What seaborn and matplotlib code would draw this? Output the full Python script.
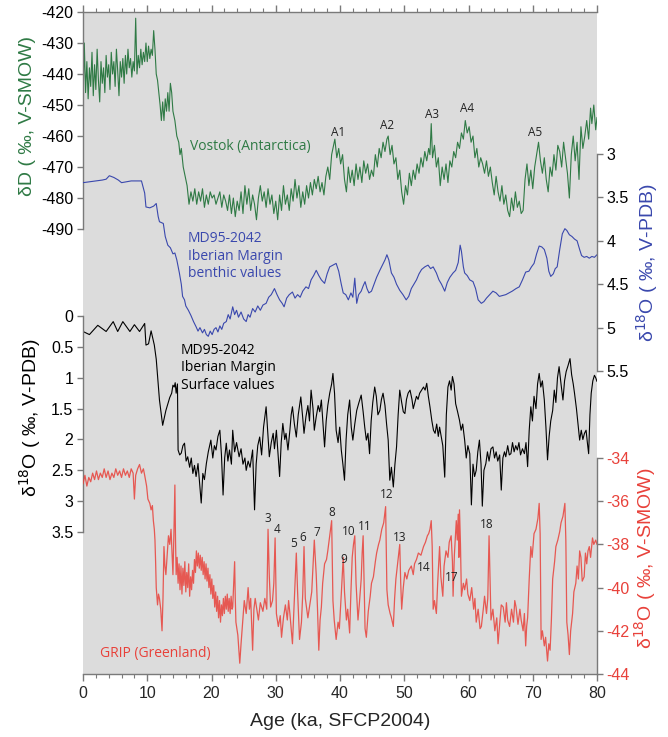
import numpy as np
import pandas as pd
import seaborn as sns
import matplotlib.pyplot as plt

# ---- Vostok deuterium (Antarctica), permil V-SMOW
vostok_age = [0.0, 0.2, 0.4, 0.6, 0.8, 1.0, 1.2, 1.4, 1.6, 1.8, 2.0, 2.2, 2.4, 2.6, 2.8, 3.0, 3.2, 3.4, 3.6, 3.8,
              4.0, 4.2, 4.4, 4.6, 4.8, 5.0, 5.2, 5.4, 5.6, 5.8, 6.0, 6.2, 6.4, 6.6, 6.8, 7.0, 7.2, 7.4, 7.6, 7.8,
              8.0, 8.2, 8.4, 8.6, 8.8, 9.0, 9.2, 9.4, 9.6, 9.8, 10.0, 10.2, 10.4, 10.6, 10.8, 11.0, 11.2, 11.4, 11.6, 11.8,
              12.0, 12.2, 12.4, 12.6, 12.8, 13.0, 13.2, 13.4, 13.6, 13.8, 14.0, 14.3, 14.6, 14.9, 15.1, 15.3, 15.6, 15.9, 16.2, 16.5,
              16.8, 17.1, 17.4, 17.7, 18.0, 18.3, 18.6, 18.9, 19.2, 19.5, 19.8, 20.1, 20.4, 20.7, 21.0, 21.3, 21.6, 21.9, 22.2, 22.5,
              22.8, 23.1, 23.4, 23.7, 24.0, 24.3, 24.6, 24.9, 25.2, 25.5, 25.8, 26.1, 26.4, 26.7, 27.0, 27.3, 27.6, 27.9, 28.2, 28.5,
              28.8, 29.1, 29.4, 29.7, 30.0, 30.3, 30.6, 30.9, 31.2, 31.5, 31.8, 32.1, 32.4, 32.7, 33.0, 33.3, 33.6, 33.9, 34.2, 34.5,
              34.8, 35.1, 35.4, 35.7, 36.0, 36.3, 36.6, 36.9, 37.2, 37.5, 37.8, 38.1, 38.4, 38.7, 39.0, 39.2, 39.5, 39.8, 40.1, 40.4,
              40.7, 41.0, 41.3, 41.6, 41.9, 42.2, 42.5, 42.8, 43.1, 43.4, 43.7, 44.0, 44.3, 44.6, 44.9, 45.2, 45.5, 45.8, 46.1, 46.4,
              46.7, 47.0, 47.3, 47.5, 47.8, 48.1, 48.4, 48.7, 49.0, 49.3, 49.6, 49.9, 50.2, 50.5, 50.8, 51.1, 51.4, 51.7, 52.0, 52.3,
              52.6, 52.9, 53.2, 53.5, 53.8, 54.0, 54.2, 54.4, 54.7, 55.0, 55.3, 55.6, 55.9, 56.2, 56.5, 56.8, 57.1, 57.4, 57.7, 58.0,
              58.3, 58.6, 58.9, 59.2, 59.5, 59.8, 60.1, 60.4, 60.7, 61.0, 61.3, 61.6, 61.9, 62.2, 62.5, 62.8, 63.1, 63.4, 63.7, 64.0,
              64.3, 64.6, 64.9, 65.2, 65.5, 65.8, 66.1, 66.4, 66.7, 67.0, 67.3, 67.6, 67.9, 68.2, 68.5, 68.8, 69.1, 69.4, 69.7, 70.0,
              70.3, 70.6, 70.9, 71.2, 71.5, 71.8, 72.1, 72.4, 72.7, 73.0, 73.3, 73.6, 73.9, 74.2, 74.5, 74.8, 75.1, 75.4, 75.7, 76.0,
              76.3, 76.6, 76.9, 77.2, 77.5, 77.8, 78.1, 78.4, 78.7, 79.0, 79.2, 79.5, 79.8, 80.0]
vostok_dD = [-449, -430, -446, -436, -448, -438, -444, -433, -447, -437, -445, -432, -442, -449, -436, -443, -438, -446, -434, -441,
             -437, -445, -433, -440, -436, -444, -432, -439, -447, -436, -441, -435, -443, -434, -440, -432, -438, -435, -441, -436,
             -439, -422, -440, -434, -438, -432, -437, -433, -436, -430, -436, -431, -435, -432, -434, -426, -432, -440, -442, -446,
             -450, -455, -449, -455, -448, -452, -446, -452, -443, -446, -452, -455, -460, -462, -466, -464, -470, -473, -476, -482,
             -478, -481, -477, -482, -478, -481, -477, -483, -479, -482, -478, -480, -479, -482, -480, -478, -483, -479, -481, -484,
             -479, -485, -480, -486, -481, -484, -478, -485, -476, -482, -477, -484, -479, -482, -487, -480, -476, -481, -478, -483,
             -477, -482, -479, -485, -481, -487, -479, -484, -476, -482, -479, -484, -477, -481, -474, -480, -476, -483, -478, -482,
             -476, -480, -475, -479, -474, -477, -473, -478, -475, -479, -473, -470, -474, -466, -463, -461, -467, -464, -469, -466,
             -474, -478, -470, -475, -471, -476, -469, -474, -470, -475, -468, -472, -469, -474, -471, -473, -466, -470, -464, -467,
             -462, -465, -461, -460, -466, -463, -469, -467, -474, -471, -478, -482, -476, -479, -472, -476, -471, -474, -469, -472,
             -467, -470, -465, -468, -464, -466, -456, -467, -463, -470, -467, -476, -470, -474, -469, -475, -468, -470, -465, -467,
             -462, -464, -459, -461, -455, -459, -457, -462, -460, -467, -464, -470, -467, -469, -472, -468, -473, -470, -475, -479,
             -473, -478, -481, -476, -482, -479, -484, -486, -480, -484, -478, -483, -481, -485, -484, -474, -469, -476, -471, -477,
             -470, -466, -462, -468, -472, -467, -474, -478, -470, -473, -466, -471, -463, -465, -470, -462, -467, -472, -480, -466,
             -460, -468, -462, -474, -457, -464, -460, -455, -461, -451, -456, -450, -458, -454]

# ---- MD95-2042 benthic d18O, permil V-PDB
benthic_age = [0, 1, 2, 3, 3.6, 4.1, 4.8, 5.5, 6.0, 6.8, 7.5, 8.3, 9.1, 9.6, 9.8, 10.4, 11.0, 11.4, 11.7, 11.9,
               12.5, 12.8, 13.2, 13.6, 14.0, 14.3, 14.6, 15.0, 15.3, 15.5, 15.8, 16.0, 16.4, 16.8, 17.2, 17.6, 17.9, 18.2, 18.6, 18.9,
               19.2, 19.5, 19.8, 20.1, 20.4, 20.7, 21.0, 21.3, 21.6, 21.9, 22.3, 22.6, 22.9, 23.3, 23.6, 23.9, 24.2, 24.6, 25.0, 25.4,
               25.7, 26.0, 26.4, 26.8, 27.2, 27.6, 28.0, 28.5, 28.9, 29.3, 29.8, 30.2, 30.6, 31.0, 31.3, 31.7, 32.1, 32.6, 33.0, 33.4,
               33.8, 34.2, 34.7, 35.1, 35.5, 35.9, 36.3, 36.7, 37.1, 37.6, 38.0, 38.4, 38.9, 39.4, 39.8, 40.2, 40.5, 40.9, 41.3, 41.7,
               42.0, 42.3, 42.6, 42.9, 43.3, 43.6, 43.9, 44.2, 44.5, 44.9, 45.3, 45.7, 46.2, 46.6, 47.0, 47.3, 47.6, 48.0, 48.4, 48.8,
               49.3, 49.8, 50.3, 50.7, 51.1, 51.5, 51.9, 52.3, 52.7, 53.2, 53.7, 54.1, 54.5, 55.0, 55.4, 55.8, 56.3, 56.7, 57.1, 57.6,
               58.0, 58.4, 58.7, 58.9, 59.2, 59.4, 59.8, 60.2, 60.7, 61.1, 61.5, 62.0, 62.4, 62.8, 63.3, 63.8, 64.3, 64.8, 65.3, 65.8,
               66.3, 66.8, 67.4, 67.9, 68.4, 68.9, 69.4, 69.8, 70.2, 70.6, 71.0, 71.4, 71.8, 72.2, 72.5, 72.8, 73.2, 73.5, 73.8, 74.2,
               74.6, 75.0, 75.3, 75.7, 76.1, 76.5, 76.9, 77.3, 77.6, 78.0, 78.4, 78.8, 79.2, 79.6, 80.0]
benthic_d18O = [3.33, 3.32, 3.31, 3.30, 3.29, 3.25, 3.27, 3.30, 3.33, 3.32, 3.31, 3.31, 3.31, 3.45, 3.61, 3.62, 3.60, 3.57, 3.72, 3.78,
                3.80, 3.95, 4.05, 4.08, 4.15, 4.14, 4.22, 4.37, 4.50, 4.64, 4.68, 4.75, 4.80, 4.86, 4.93, 4.99, 5.04, 5.00, 5.06, 5.02,
                5.08, 5.10, 5.04, 5.08, 5.02, 5.00, 5.05, 4.98, 5.02, 4.95, 4.93, 4.85, 4.90, 4.76, 4.85, 4.80, 4.88, 4.82, 4.90, 4.93,
                4.85, 4.88, 4.78, 4.82, 4.75, 4.80, 4.74, 4.72, 4.65, 4.62, 4.55, 4.62, 4.68, 4.72, 4.76, 4.66, 4.62, 4.59, 4.66, 4.62,
                4.65, 4.58, 4.53, 4.55, 4.45, 4.40, 4.34, 4.40, 4.45, 4.49, 4.38, 4.30, 4.28, 4.26, 4.35, 4.50, 4.60, 4.62, 4.68, 4.60,
                4.65, 4.43, 4.72, 4.62, 4.58, 4.52, 4.47, 4.55, 4.60, 4.58, 4.50, 4.42, 4.34, 4.28, 4.22, 4.16, 4.22, 4.37, 4.42, 4.50,
                4.57, 4.62, 4.68, 4.64, 4.55, 4.50, 4.45, 4.38, 4.33, 4.30, 4.28, 4.32, 4.30, 4.37, 4.45, 4.50, 4.58, 4.48, 4.42, 4.37,
                4.34, 4.25, 4.05, 4.12, 4.30, 4.37, 4.40, 4.45, 4.47, 4.55, 4.68, 4.72, 4.70, 4.66, 4.62, 4.58, 4.60, 4.64, 4.63, 4.62,
                4.60, 4.58, 4.55, 4.53, 4.45, 4.36, 4.35, 4.30, 4.26, 4.15, 4.06, 4.07, 4.10, 4.20, 4.35, 4.41, 4.38, 4.32, 4.30, 4.10,
                3.92, 3.86, 3.88, 3.93, 3.95, 3.98, 4.00, 4.10, 4.17, 4.19, 4.18, 4.20, 4.18, 4.19, 4.16]

# ---- MD95-2042 surface (planktonic) d18O, permil V-PDB
surface_age = [0, 1.0, 2.3, 3.6, 4.7, 5.4, 6.2, 7.3, 8.0, 8.8, 9.6, 9.8, 10.2, 10.6, 11.1, 11.4, 11.7, 11.9, 12.4, 12.9,
               13.5, 13.8, 14.0, 14.2, 14.35, 14.5, 14.7, 14.8, 15.05, 15.3, 15.55, 15.8, 16.05, 16.3, 16.6, 16.85, 17.1, 17.35, 17.6, 17.9,
               18.15, 18.4, 18.65, 18.9, 19.2, 19.5, 19.9, 20.2, 20.45, 20.7, 21.0, 21.3, 21.55, 21.8, 22.05, 22.3, 22.55, 22.8, 23.1, 23.3,
               23.6, 23.9, 24.3, 24.6, 24.9, 25.2, 25.4, 25.7, 26.0, 26.4, 26.7, 26.95, 27.2, 27.5, 27.8, 28.1, 28.5, 28.8, 29.0, 29.3,
               29.6, 29.8, 30.1, 30.4, 30.6, 30.85, 31.1, 31.4, 31.6, 31.9, 32.2, 32.4, 32.6, 32.9, 33.2, 33.5, 33.9, 34.2, 34.4, 34.7,
               35.0, 35.25, 35.5, 35.8, 36.0, 36.3, 36.6, 36.85, 37.1, 37.35, 37.6, 37.85, 38.1, 38.4, 38.7, 38.9, 39.15, 39.4, 39.7, 39.95,
               40.2, 40.45, 40.7, 40.95, 41.2, 41.5, 41.75, 42.0, 42.3, 42.6, 42.95, 43.3, 43.6, 43.85, 44.1, 44.35, 44.6, 44.85, 45.1, 45.4,
               45.65, 45.9, 46.2, 46.45, 46.7, 47.0, 47.25, 47.5, 47.75, 48.0, 48.3, 48.55, 48.8, 49.05, 49.3, 49.6, 49.85, 50.1, 50.35, 50.6,
               50.9, 51.2, 51.4, 51.6, 51.9, 52.15, 52.4, 52.7, 53.0, 53.25, 53.5, 53.75, 54.0, 54.3, 54.55, 54.8, 55.05, 55.3, 55.5, 55.75,
               56.0, 56.3, 56.55, 56.8, 57.05, 57.3, 57.5, 57.75, 58.0, 58.3, 58.6, 58.85, 59.1, 59.4, 59.65, 59.9, 60.2, 60.45, 60.7, 60.95,
               61.2, 61.45, 61.7, 61.95, 62.15, 62.4, 62.7, 62.95, 63.2, 63.5, 63.8, 64.05, 64.3, 64.55, 64.85, 65.1, 65.35, 65.6, 65.8, 66.1,
               66.35, 66.6, 66.85, 67.1, 67.35, 67.6, 67.85, 68.1, 68.4, 68.7, 68.95, 69.2, 69.45, 69.7, 69.95, 70.2, 70.5, 70.75, 71.0, 71.25,
               71.5, 71.8, 72.05, 72.3, 72.55, 72.8, 73.1, 73.35, 73.6, 73.85, 74.1, 74.4, 74.7, 74.95, 75.2, 75.5, 75.8, 76.05, 76.3, 76.5,
               76.8, 77.05, 77.3, 77.55, 77.8, 78.05, 78.3, 78.5, 78.7, 78.9, 79.1, 79.35, 79.6, 79.8, 80.0]
surface_d18O = [0.25, 0.30, 0.15, 0.25, 0.09, 0.25, 0.09, 0.25, 0.14, 0.25, 0.12, 0.47, 0.45, 0.24, 0.47, 0.70, 1.09, 1.36, 1.77, 1.53,
                1.32, 1.25, 1.12, 1.15, 1.08, 1.25, 1.10, 2.17, 2.25, 2.22, 2.10, 2.06, 2.35, 2.28, 2.45, 2.30, 2.55, 2.42, 2.60, 2.39,
                2.70, 3.03, 2.55, 2.65, 2.39, 2.20, 2.01, 2.30, 2.10, 2.17, 1.95, 1.85, 2.25, 2.90, 2.30, 2.06, 2.35, 2.17, 2.40, 1.85,
                2.20, 2.05, 2.28, 2.15, 2.40, 2.30, 2.50, 2.35, 2.45, 2.17, 3.14, 2.40, 2.10, 1.96, 2.25, 1.80, 1.47, 1.95, 2.28, 2.05,
                1.90, 2.15, 1.85, 2.30, 2.60, 2.05, 1.74, 2.00, 1.90, 2.17, 1.85, 1.60, 1.47, 1.75, 1.96, 1.60, 1.31, 1.65, 1.90, 1.63,
                1.45, 1.70, 1.20, 1.50, 1.85, 1.63, 1.45, 1.55, 1.36, 1.75, 2.12, 1.70, 1.45, 1.25, 1.10, 0.93, 1.25, 1.85, 2.05, 1.80,
                2.17, 2.40, 2.66, 2.00, 1.60, 1.36, 1.80, 2.01, 1.75, 1.53, 1.40, 1.28, 1.55, 1.80, 2.01, 1.90, 2.23, 1.70, 1.40, 1.15,
                1.30, 1.60, 1.53, 1.35, 1.25, 1.45, 1.75, 2.01, 2.66, 2.45, 2.77, 2.40, 2.12, 1.60, 1.20, 1.40, 1.55, 1.58, 1.35, 1.25,
                1.20, 1.35, 1.50, 1.42, 1.30, 1.35, 1.25, 1.20, 1.15, 1.20, 1.09, 1.30, 1.47, 1.70, 1.85, 1.90, 1.75, 1.95, 1.80, 1.95,
                2.10, 2.61, 1.60, 1.15, 1.05, 1.20, 0.98, 1.10, 1.42, 1.55, 1.69, 1.85, 1.75, 2.01, 2.30, 2.10, 2.23, 3.06, 2.40, 2.60,
                2.50, 2.20, 2.01, 2.40, 3.08, 2.50, 2.39, 2.20, 2.35, 2.15, 2.12, 2.30, 2.20, 2.35, 2.25, 2.82, 2.30, 2.20, 2.28, 2.10,
                2.25, 2.23, 2.05, 2.20, 2.10, 2.17, 2.05, 2.25, 2.15, 2.23, 2.05, 2.44, 1.85, 1.47, 1.70, 1.30, 1.50, 1.10, 0.93, 1.15,
                1.05, 1.36, 1.80, 2.33, 1.95, 1.70, 1.53, 1.20, 1.40, 1.00, 0.82, 1.10, 1.36, 1.05, 0.90, 0.80, 0.69, 0.95, 1.10, 1.25,
                1.50, 1.75, 2.01, 1.85, 2.00, 1.90, 1.85, 2.05, 2.23, 1.60, 1.25, 1.05, 0.96, 1.00, 1.06]

# ---- GRIP d18O (Greenland), permil V-SMOW
grip_age = [0, 0.3, 0.6, 0.9, 1.2, 1.5, 1.8, 2.1, 2.4, 2.7, 3.0, 3.3, 3.6, 3.9, 4.2, 4.5, 4.8, 5.1, 5.4, 5.7,
            6.0, 6.3, 6.6, 6.9, 7.2, 7.5, 7.8, 8.0, 8.2, 8.5, 8.8, 9.1, 9.4, 9.6, 9.9, 10.1, 10.4, 10.6, 10.8, 10.95,
            11.1, 11.2, 11.3, 11.4, 11.6, 11.75, 11.9, 12.1, 12.3, 12.45, 12.6, 12.75, 12.9, 13.1, 13.3, 13.5, 13.7, 13.85, 14.0, 14.15,
            14.3, 14.4,
            14.5, 14.65, 14.8, 14.95, 15.1, 15.25, 15.4, 15.55, 15.7, 15.85,
            16.0, 16.15, 16.3, 16.45, 16.6, 16.75, 16.9, 17.05, 17.2, 17.35,
            17.5, 17.65, 17.8, 17.95, 18.1, 18.25, 18.4, 18.55, 18.7, 18.85,
            19.0, 19.15, 19.3, 19.45, 19.6, 19.75, 19.9, 20.05, 20.2, 20.35,
            20.5, 20.65, 20.8, 20.95, 21.1, 21.25, 21.4, 21.55, 21.7, 21.85,
            22.0, 22.15, 22.3, 22.45, 22.6, 22.75, 22.9, 23.05, 23.2, 23.3,
            23.5, 23.6, 23.7, 23.8, 24.1, 24.4, 24.6,
            24.9, 25.1, 25.4, 25.7, 25.9, 26.1, 26.4, 26.6, 26.8, 27.0, 27.3, 27.6, 28.0, 28.3, 28.6, 28.8, 29.0, 29.2, 29.5, 29.7,
            29.9, 30.1, 30.4, 30.7, 30.9, 31.2, 31.5, 31.8, 32.0, 32.2, 32.6, 32.9, 33.2, 33.4, 33.7, 34.0, 34.2, 34.4, 34.6, 35.0,
            35.3, 35.6, 35.8, 36.0, 36.3, 36.5, 36.7, 36.9, 37.1, 37.3, 37.6, 37.9, 38.1, 38.4, 38.7, 38.9, 39.1, 39.4, 39.7, 39.9,
            40.2, 40.5, 40.7, 41.0, 41.2, 41.5, 41.7, 41.9, 42.1, 42.3, 42.5, 42.8, 43.0, 43.3, 43.45, 43.6, 43.75, 43.9, 44.1, 44.4,
            44.7, 44.9, 45.2, 45.5, 45.7, 46.0, 46.2, 46.5, 46.8, 47.1, 47.3, 47.5, 47.8, 48.0, 48.3, 48.5, 48.7, 49.0, 49.3, 49.45,
            49.6, 49.85, 50.1, 50.4, 50.7, 51.1, 51.4, 51.6, 51.9, 52.2, 52.6, 53.0, 53.3, 53.6, 53.8, 54.0, 54.2, 54.35, 54.5, 54.7,
            55.0, 55.2, 55.5, 55.7, 56.0, 56.2, 56.5, 56.8, 57.0, 57.3, 57.5, 57.6, 57.8, 58.1, 58.25, 58.4, 58.5, 58.6, 58.75, 58.9,
            59.2, 59.4, 59.7, 59.9, 60.2, 60.5, 60.8, 61.0, 61.2, 61.5, 61.8, 62.0, 62.3, 62.5, 62.8, 63.0, 63.2, 63.35, 63.5, 63.8,
            64.1, 64.4, 64.6, 64.9, 65.1, 65.4, 65.7, 65.9, 66.1, 66.4, 66.7, 67.0, 67.2, 67.4, 67.7, 68.0, 68.2, 68.5, 68.7, 68.9,
            69.05, 69.2, 69.45, 69.7, 69.9, 70.2, 70.5, 70.8, 71.0, 71.15, 71.3, 71.5, 71.8, 72.0, 72.3, 72.5, 72.7, 72.9, 73.1, 73.4,
            73.6, 73.9, 74.2, 74.4, 74.7, 75.0, 75.15, 75.3, 75.5, 75.7, 75.9, 76.2, 76.4, 76.7, 76.9, 77.1, 77.3, 77.5, 77.7, 78.0,
            78.2, 78.4, 78.6, 78.8, 79.0, 79.3, 79.5, 79.8, 80.0]
grip_d18O = [-35.2, -34.8, -35.3, -34.9, -35.1, -34.7, -35.0, -34.6, -35.0, -34.7, -34.9, -34.5, -34.9, -34.6, -35.0, -34.7, -34.9, -34.5, -34.8, -34.6,
             -34.9, -34.5, -34.8, -34.6, -34.9, -34.5, -34.7, -35.9, -34.8, -34.5, -34.3, -34.7, -34.5, -34.8, -35.3, -35.9, -36.1, -36.4, -36.2, -36.9,
             -37.3, -37.8, -38.8, -40.0, -40.8, -40.3, -40.5, -41.0, -42.0, -40.5, -38.1, -39.0, -39.4, -38.5, -37.6, -38.0, -37.3, -38.3, -39.4, -37.5,
             -35.25, -37.8,
             -39.4, -38.6, -39.8, -38.9, -40.1, -39.0, -40.3, -39.1, -39.9, -38.8,
             -40.2, -39.3, -40.0, -38.9, -40.4, -39.5, -40.1, -39.2, -39.8, -38.7,
             -39.3, -38.3, -39.0, -38.4, -39.1, -38.5, -39.2, -38.6, -39.4, -38.8,
             -39.6, -38.9, -39.7, -39.1, -40.0, -39.4, -40.3, -39.6, -40.5, -39.9,
             -40.9, -40.2, -41.1, -40.4, -41.4, -40.6, -41.6, -40.8, -41.3, -40.5,
             -41.2, -40.4, -41.0, -40.3, -41.1, -40.5, -41.2, -40.4, -41.0, -40.9,
             -39.5, -38.8, -40.5, -41.6, -42.2, -43.5, -42.6,
             -41.4, -40.6, -41.2, -40.0, -41.0, -40.5, -42.9, -41.0, -40.5, -40.9, -41.5, -40.7, -41.1, -40.5, -41.0, -37.3, -39.5, -40.9, -40.6, -39.8,
             -37.7, -41.2, -41.8, -41.3, -42.3, -41.4, -40.8, -41.5, -40.6, -41.2, -42.6, -40.5, -38.4, -40.2, -42.4, -41.6, -40.3, -38.1, -40.5, -41.4,
             -40.8, -40.2, -39.0, -37.8, -39.4, -41.0, -42.9, -41.5, -40.9, -39.8, -38.9, -38.7, -38.3, -37.6, -36.9, -40.6, -41.5, -42.4, -41.6, -41.9,
             -40.3, -38.6, -40.2, -41.5, -41.0, -42.1, -40.2, -38.6, -38.0, -37.6, -39.8, -41.5, -40.8, -39.6, -38.4, -37.6, -39.8, -41.9, -42.3, -41.1,
             -40.4, -39.8, -39.5, -38.8, -38.4, -38.0, -37.8, -37.3, -37.0, -36.25, -40.1, -40.8, -41.2, -41.4, -41.8, -40.5, -39.6, -38.8, -38.0, -39.8,
             -41.0, -40.0, -39.3, -39.6, -39.2, -39.0, -39.4, -38.9, -38.7, -38.4, -38.5, -38.1, -37.9, -37.6, -37.5, -37.3, -36.9, -38.1, -41.0, -40.6,
             -41.2, -39.8, -38.1, -39.5, -40.4, -39.0, -38.3, -38.6, -37.9, -37.6, -38.8, -40.4, -38.5, -36.9, -37.8, -36.6, -38.6, -36.4, -38.0, -40.4,
             -39.8, -40.1, -39.6, -40.3, -40.6, -40.0, -41.0, -40.5, -41.6, -41.0, -41.9, -41.8, -41.0, -40.4, -41.2, -40.5, -37.6, -39.5, -41.5, -41.0,
             -42.0, -41.4, -42.6, -41.5, -40.8, -40.9, -41.6, -40.7, -41.5, -41.8, -41.0, -41.6, -40.6, -40.9, -41.7, -41.0, -41.5, -42.0, -41.2, -42.7,
             -41.8, -41.4, -39.6, -38.1, -38.6, -37.5, -37.3, -36.8, -36.1, -37.5, -42.4, -42.0, -42.7, -42.3, -43.4, -42.6, -42.9, -41.5, -39.6, -38.8,
             -38.1, -37.8, -37.4, -37.0, -36.7, -36.1, -37.8, -41.6, -42.2, -43.1, -42.0, -41.2, -40.2, -39.8, -39.0, -39.6, -38.3, -38.6, -39.7, -39.5,
             -38.4, -38.9, -38.3, -38.1, -38.6, -37.7, -38.0, -37.8, -38.0]

# tick labels
age_ticks = [0, 10, 20, 30, 40, 50, 60, 70, 80]
vostok_ticks = [-490, -480, -470, -460, -450, -440, -430, -420]
benthic_ticks = [3, 3.5, 4, 4.5, 5, 5.5]
benthic_labels = ['3', '3.5', '4', '4.5', '5', '5.5']
surface_ticks = [0, 0.5, 1, 1.5, 2, 2.5, 3, 3.5]
surface_labels = ['0', '0.5', '1', '1.5', '2', '2.5', '3', '3.5']
grip_ticks = [-44, -42, -40, -38, -36, -34]

# event labels
antarctic_events = ['A1', 'A2', 'A3', 'A4', 'A5']
dansgaard_events = ['3', '4', '5', '6', '7', '8', '9', '10', '11', '12', '13', '14', '17', '18']

GREEN = '#2f7a45'
BLUE = '#3a48ad'
RED = '#e8413a'
SPINE = '#7a7a7a'

sns.set_style("white")
plt.rcParams['font.family'] = ['Liberation Sans', 'DejaVu Sans']
plt.rcParams['axes.unicode_minus'] = False
ANNOT_FONT = ['Open Sans', 'DejaVu Sans']

fig = plt.figure(figsize=(6.68, 7.37), dpi=100)
rect = [83 / 668, 1 - 674 / 737, 514 / 668, 662 / 737]

ax = fig.add_axes(rect)
ax.set_facecolor('#dcdcdc')
ax.set_xlim(0, 80)
ax.set_ylim(0, 1)
ax.set_yticks([])
ax.set_xticks(age_ticks)
ax.set_xticks(range(0, 81, 2), minor=True)
ax.tick_params(axis='x', which='both', top=True, bottom=True, direction='out',
               color=SPINE, labelsize=11.5, pad=4)
ax.tick_params(axis='x', which='major', length=5, width=1)
ax.tick_params(axis='x', which='minor', length=3, width=0.8)
for s in ['left', 'right']:
    ax.spines[s].set_visible(False)
for s in ['top', 'bottom']:
    ax.spines[s].set_color(SPINE)
    ax.spines[s].set_linewidth(1)
ax.set_xlabel('Age (ka, SFCP2004)', fontsize=14, labelpad=8)


def overlay(side, ylim, ticks, labels, bounds, labelcolor='black'):
    a = fig.add_axes(rect, sharex=ax)
    a.patch.set_visible(False)
    a.set_ylim(*ylim)
    a.set_yticks(ticks)
    a.set_yticklabels(labels)
    for s in ['top', 'bottom', 'left', 'right']:
        a.spines[s].set_visible(s == side)
    a.spines[side].set_bounds(*bounds)
    a.spines[side].set_color(SPINE)
    a.spines[side].set_linewidth(1)
    if side == 'right':
        a.yaxis.tick_right()
    else:
        a.yaxis.tick_left()
    a.tick_params(axis='y', direction='out', length=4, width=1, color=SPINE,
                  labelsize=11.5, labelcolor=labelcolor, pad=3)
    a.xaxis.set_visible(False)
    return a


ax_v = overlay('left', (-633.5, -420), vostok_ticks, [str(t) for t in vostok_ticks], (-490, -420))
ax_b = overlay('right', (8.99, 1.364), benthic_ticks, benthic_labels, (3, 5.5))
ax_s = overlay('left', (5.80, -4.927), surface_ticks, surface_labels, (0, 3.5))
ax_g = overlay('right', (-44, -13.35), grip_ticks, [str(t) for t in grip_ticks], (-44, -34), labelcolor=RED)

sns.lineplot(x=vostok_age, y=vostok_dD, ax=ax_v, color=GREEN, linewidth=0.8, estimator=None)
sns.lineplot(x=benthic_age, y=benthic_d18O, ax=ax_b, color=BLUE, linewidth=0.8, estimator=None)
sns.lineplot(x=grip_age, y=grip_d18O, ax=ax_g, color=RED, linewidth=0.9, alpha=0.85, estimator=None)
sns.lineplot(x=surface_age, y=surface_d18O, ax=ax_s, color='black', linewidth=0.8, estimator=None)
for a in [ax_v, ax_b, ax_s, ax_g]:
    a.set_xlabel('')
    a.set_ylabel('')
ax.set_xlim(0, 80)

# series names
ax_v.text(16.6, -463.5, 'Vostok (Antarctica)', color=GREEN, fontsize=10, family=ANNOT_FONT,
          ha='left', va='center')
ax_b.text(16.3, 4.175, 'MD95-2042\nIberian Margin\nbenthic values', color=BLUE, fontsize=10,
          family=ANNOT_FONT, ha='left', va='center', linespacing=1.25)
ax_s.text(15.2, 0.84, 'MD95-2042\nIberian Margin\nSurface values', color='black', fontsize=10,
          family=ANNOT_FONT, ha='left', va='center', linespacing=1.25)
ax_g.text(2.6, -43.03, 'GRIP (Greenland)', color=RED, fontsize=10, family=ANNOT_FONT,
          ha='left', va='center')

# Antarctic warm events
a_pos = [(39.7, -459.0), (47.3, -456.5), (54.3, -452.9), (59.7, -451.0), (70.3, -459.0)]
for lab, (xx, yy) in zip(antarctic_events, a_pos):
    ax_v.text(xx, yy, lab, fontsize=8.5, family=ANNOT_FONT, color='#222', ha='center', va='center')

# Dansgaard-Oeschger interstadials
d_pos = [(28.8, -36.82), (30.2, -37.29), (32.7, -37.94), (34.2, -37.70), (36.4, -37.43),
         (38.7, -36.50), (40.6, -38.68), (41.4, -37.38), (43.9, -37.15), (47.3, -35.67),
         (49.3, -37.66), (53.0, -39.09), (57.4, -39.51), (62.8, -37.06)]
for lab, (xx, yy) in zip(dansgaard_events, d_pos):
    ax_g.text(xx, yy, lab, fontsize=8.5, family=ANNOT_FONT, color='#222', ha='center', va='center')

# axis titles
fig.text(28 / 668, 1 - 116 / 737, 'δD ( ‰, V-SMOW)', color=GREEN, fontsize=14,
         rotation=90, ha='center', va='center')
fig.text(30 / 668, 1 - 418 / 737, 'δ$^{18}$O ( ‰, V-PDB)', color='black', fontsize=14,
         rotation=90, ha='center', va='center')
fig.text(647 / 668, 1 - 263 / 737, 'δ$^{18}$O ( ‰, V-PDB)', color=BLUE, fontsize=14,
         rotation=90, ha='center', va='center')
fig.text(645 / 668, 1 - 558 / 737, 'δ$^{18}$O ( ‰, V-SMOW)', color=RED, fontsize=14,
         rotation=90, ha='center', va='center')

fig.savefig('out.png', dpi=100)
